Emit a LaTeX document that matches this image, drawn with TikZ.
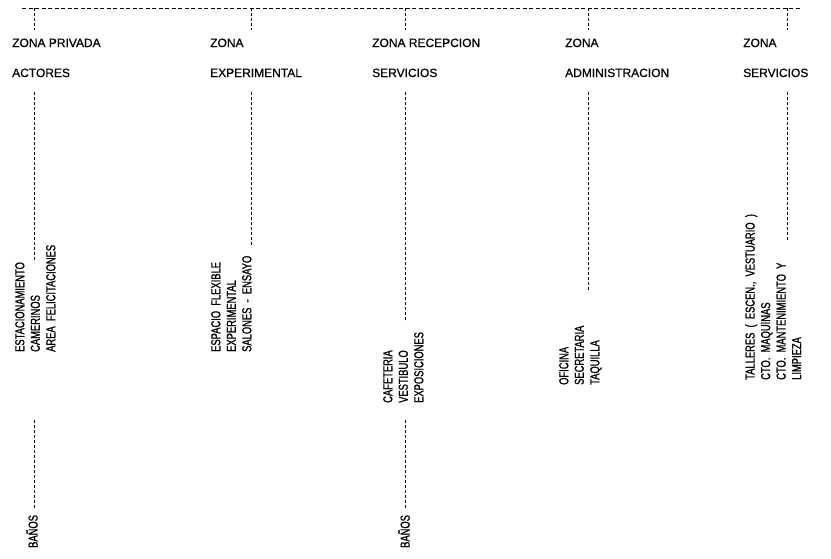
\documentclass[tikz,border=0pt]{standalone}
\usepackage{fontspec}
\setmainfont[FakeBold=0.6]{Liberation Sans}
\newfontfamily\angosta[FakeStretch=0.72,WordSpace=2,FakeBold=1]{Liberation Sans}
\usetikzlibrary{positioning,calc}
\tikzset{
  zona/.style={anchor=base west,align=left,inner sep=0pt,font=\fontsize{12}{30}\selectfont},
  lista/.style={rotate=90,anchor=north west,align=left,inner sep=0pt,font=\angosta\fontsize{13}{15.5}\selectfont},
  guia/.style={line width=0.9pt,dash pattern=on 3pt off 2pt},
  raya/.style={line width=0.8pt,dash pattern=on 4pt off 2.5pt}
}

\begin{document}
\begin{tikzpicture}[x=1pt,y=-1pt]
\useasboundingbox (0,0) rectangle (831,558);

\node[zona] (zpriv) at (12,77) {ZONA PRIVADA\\ACTORES};
\node[zona] (zexp) at (210,77) {ZONA\\EXPERIMENTAL};
\node[zona] (zrec) at (372,77) {ZONA RECEPCION\\SERVICIOS};
\node[zona] (zadm) at (565,77) {ZONA\\ADMINISTRACION};
\node[zona] (zserv) at (743,77) {ZONA\\SERVICIOS};

\node[lista] (lpriv) at (15,352) {ESTACIONAMIENTO\\CAMERINOS\\AREA FELICITACIONES};
\node[lista] (lexp) at (211,352) {ESPACIO FLEXIBLE\\EXPERIMENTAL\\SALONES - ENSAYO};
\node[lista] (lrec) at (383,403) {CAFETERIA\\VESTIBULO\\EXPOSICIONES};
\node[lista] (ladm) at (559,385) {OFICINA\\SECRETARIA\\TAQUILLA};
\node[lista] (lserv) at (745,380) {TALLERES ( ESCEN., VESTUARIO )\\CTO. MAQUINAS\\CTO. MANTENIMIENTO Y\\LIMPIEZA};
\node[lista] (bpriv) at (26,548) {BAÑOS};
\node[lista] (brec) at (398,548) {BAÑOS};

\coordinate (ini) at (22,8);
\coordinate (fin) at (800,8);
\coordinate (t1) at (34,8);
\coordinate (t2) at (251,8);
\coordinate (t3) at (405,8);
\coordinate (t4) at (588,8);
\coordinate (t5) at (787,8);
\draw[raya] (ini) -- (fin);
\draw[guia] (t1) -- ($(t1)+(0,22)$);
\draw[guia] (t2) -- ($(t2)+(0,22)$);
\draw[guia] (t3) -- ($(t3)+(0,22)$);
\draw[guia] (t4) -- ($(t4)+(0,22)$);
\draw[guia] (t5) -- ($(t5)+(0,22)$);

\coordinate (a1) at (34,92);
\coordinate (e1) at (34,262);
\coordinate (a2) at (251,92);
\coordinate (e2) at (251,247);
\coordinate (a3) at (405,92);
\coordinate (e3) at (405,322);
\coordinate (a4) at (588,92);
\coordinate (e4) at (588,292);
\coordinate (a5) at (787,92);
\coordinate (e5) at (787,240);
\draw[guia] (a1) -- (e1);
\draw[guia] (a2) -- (e2);
\draw[guia] (a3) -- (e3);
\draw[guia] (a4) -- (e4);
\draw[guia] (a5) -- (e5);

\coordinate (b1) at (34,420);
\coordinate (b3) at (405,420);
\draw[guia] (b1) -- ($(bpriv.east -| b1)+(0,-6)$);
\draw[guia] (b3) -- ($(brec.east -| b3)+(0,-6)$);
\end{tikzpicture}
\end{document}
